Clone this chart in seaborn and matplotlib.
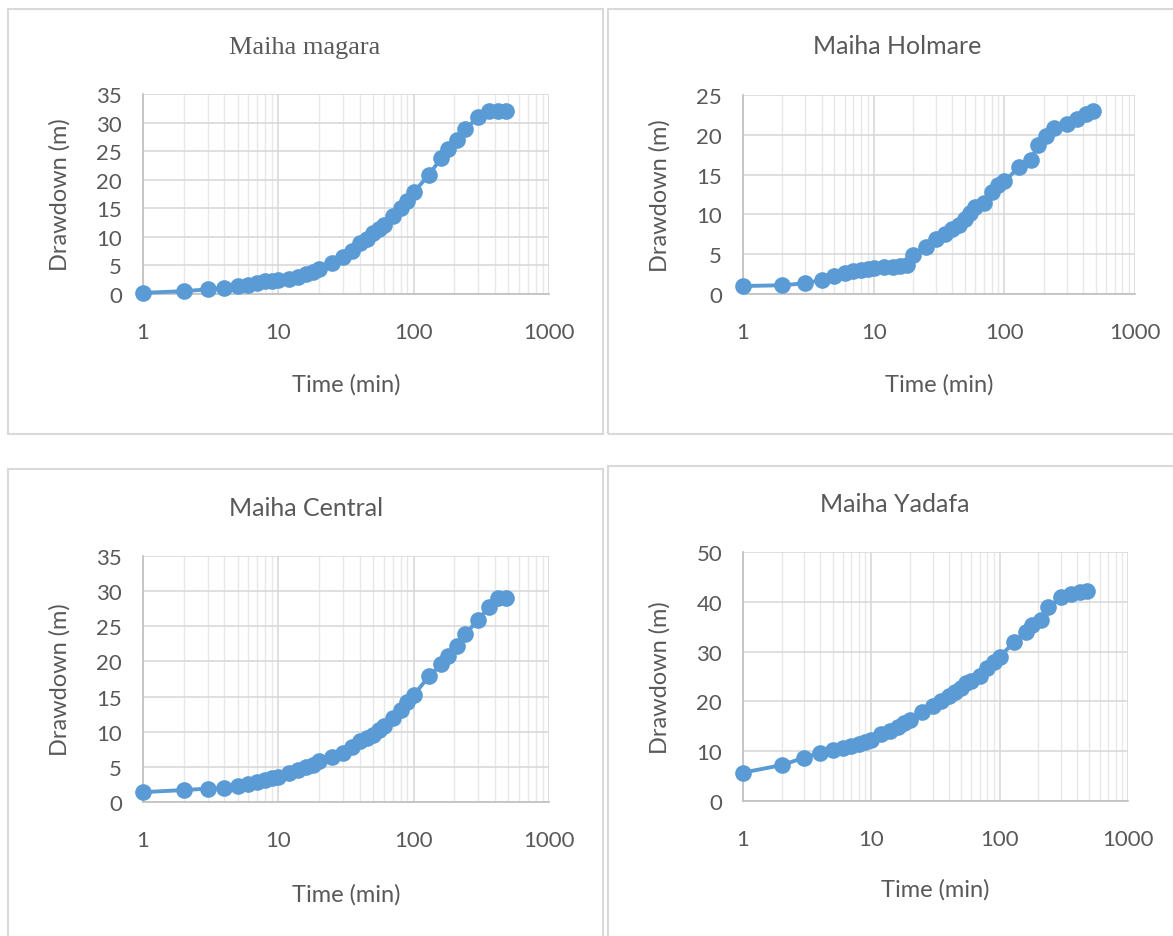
import numpy as np
import pandas as pd
import matplotlib
matplotlib.use("Agg")
import matplotlib.pyplot as plt
import seaborn as sns
from matplotlib.patches import Rectangle
from matplotlib.ticker import LogLocator, FixedLocator, NullFormatter

# pumping test times (min)
time_min = [1, 2, 3, 4, 5, 6, 7, 8, 9, 10, 12, 14, 16, 18, 20, 25, 30, 35, 40, 45,
            50, 55, 60, 70, 80, 90, 100, 130, 160, 180, 210, 240, 300, 360, 420, 480]

# drawdown (m) for each borehole
dd_magara = [0.2, 0.5, 0.8, 1.05, 1.35, 1.6, 1.9, 2.2, 2.3, 2.45, 2.6, 3.0, 3.5, 3.9,
             4.4, 5.5, 6.4, 7.6, 8.9, 9.7, 10.7, 11.4, 12.1, 13.7, 15.0, 16.2, 17.8,
             20.9, 23.8, 25.3, 27.0, 28.9, 30.9, 32.0, 32.0, 32.0]
dd_holmare = [1.0, 1.1, 1.35, 1.75, 2.3, 2.6, 2.85, 3.05, 3.2, 3.3, 3.4, 3.45, 3.5, 3.6,
              4.9, 5.9, 6.9, 7.5, 8.2, 8.7, 9.4, 10.2, 10.9, 11.4, 12.8, 13.7, 14.2,
              15.9, 16.8, 18.7, 19.8, 20.8, 21.3, 22.0, 22.6, 23.0]
dd_central = [1.4, 1.7, 1.9, 2.0, 2.3, 2.6, 2.85, 3.1, 3.35, 3.6, 4.1, 4.6, 4.95, 5.3,
              5.8, 6.4, 7.0, 7.8, 8.7, 9.15, 9.6, 10.2, 10.8, 11.95, 13.1, 14.2, 15.2,
              17.9, 19.6, 20.8, 22.2, 23.9, 25.9, 27.8, 29.0, 29.0]
dd_yadafa = [5.7, 7.2, 8.7, 9.7, 10.3, 10.7, 11.1, 11.5, 11.9, 12.3, 13.4, 14.1, 14.9,
             15.6, 16.3, 17.8, 19.1, 20.1, 21.1, 21.8, 22.7, 23.6, 24.0, 25.2, 26.8,
             27.9, 29.0, 31.9, 34.0, 35.4, 36.4, 38.9, 40.9, 41.5, 41.9, 42.1]

titles = ["Maiha magara", "Maiha Holmare", "Maiha Central", "Maiha Yadafa"]
series = [dd_magara, dd_holmare, dd_central, dd_yadafa]
y_max = [35, 25, 35, 50]
y_step = [5, 5, 5, 10]

sns.set_style("white")
plt.rcParams["font.family"] = ["Lato", "DejaVu Sans"]

W, H = 1173, 937
fig = plt.figure(figsize=(W / 100, H / 100), dpi=100)

# pixel boxes: axes (left, top, right, bottom), frame, title centre, label positions
axes_px = [(143, 95, 549, 295), (743, 96, 1135, 295),
           (143, 557, 549, 803), (743, 553, 1128, 802)]
frames_px = [(8, 10, 603, 435), (608, 10, 1190, 435),
             (8, 470, 603, 945), (608, 467, 1190, 945)]
title_px = [(305, 48), (897, 47), (306, 509), (895, 505)]
ylab_x = [60, 660, 60, 660]
xlab_y = [385, 385, 895, 890]

grey_txt = "#595959"
blue = "#5b9bd5"

for (fx0, fy0, fx1, fy1) in frames_px:
    fig.patches.append(Rectangle((fx0 / W, 1 - fy1 / H), (fx1 - fx0) / W, (fy1 - fy0) / H,
                                 transform=fig.transFigure, fill=False,
                                 edgecolor="#d9d9d9", linewidth=1.5, zorder=0))

for i in range(4):
    x0, y0, x1, y1 = axes_px[i]
    ax = fig.add_axes([x0 / W, 1 - y1 / H, (x1 - x0) / W, (y1 - y0) / H])
    df = pd.DataFrame({"time": time_min, "drawdown": series[i]})
    sns.lineplot(data=df, x="time", y="drawdown", ax=ax, color=blue, linewidth=2.8,
                 marker="o", markersize=12, markeredgewidth=0, zorder=3, clip_on=False)
    ax.set_xscale("log")
    ax.set_xlim(1, 1000)
    ax.set_ylim(0, y_max[i])
    ax.xaxis.set_major_locator(FixedLocator([1, 10, 100, 1000]))
    ax.set_xticklabels(["1", "10", "100", "1000"])
    ax.xaxis.set_minor_locator(LogLocator(base=10, subs=np.arange(2, 10)))
    ax.xaxis.set_minor_formatter(NullFormatter())
    ax.set_yticks(np.arange(0, y_max[i] + 1, y_step[i]))
    ax.grid(which="major", color="#d9d9d9", linewidth=1.2)
    ax.grid(which="minor", axis="x", color="#e8e8e8", linewidth=1.0)
    for s in ["top", "right"]:
        ax.spines[s].set_visible(False)
    for s in ["left", "bottom"]:
        ax.spines[s].set_color("#bfbfbf")
        ax.spines[s].set_linewidth(1.2)
    ax.tick_params(axis="both", which="both", length=0, labelsize=16, colors=grey_txt)
    ax.tick_params(axis="x", pad=20)
    ax.tick_params(axis="y", pad=15)
    ax.set_xlabel("Time (min)", fontsize=17, color=grey_txt)
    ax.set_ylabel("Drawdown (m)", fontsize=17, color=grey_txt)
    ax.xaxis.set_label_coords(0.5, -(xlab_y[i] - y1) / (y1 - y0), transform=ax.transAxes)
    ax.xaxis.label.set_va("center")
    ax.yaxis.set_label_coords(-(x0 - ylab_x[i]) / (x1 - x0), 0.5, transform=ax.transAxes)
    ax.yaxis.label.set_va("center")
    tx, ty = title_px[i]
    if i == 0:
        fig.text(tx / W, 1 - ty / H, titles[i], ha="center", va="center", fontsize=19,
                 color=grey_txt, family="Liberation Serif")
    else:
        fig.text(tx / W, 1 - ty / H, titles[i], ha="center", va="center", fontsize=18,
                 color=grey_txt)

fig.savefig("out.png", dpi=100)
